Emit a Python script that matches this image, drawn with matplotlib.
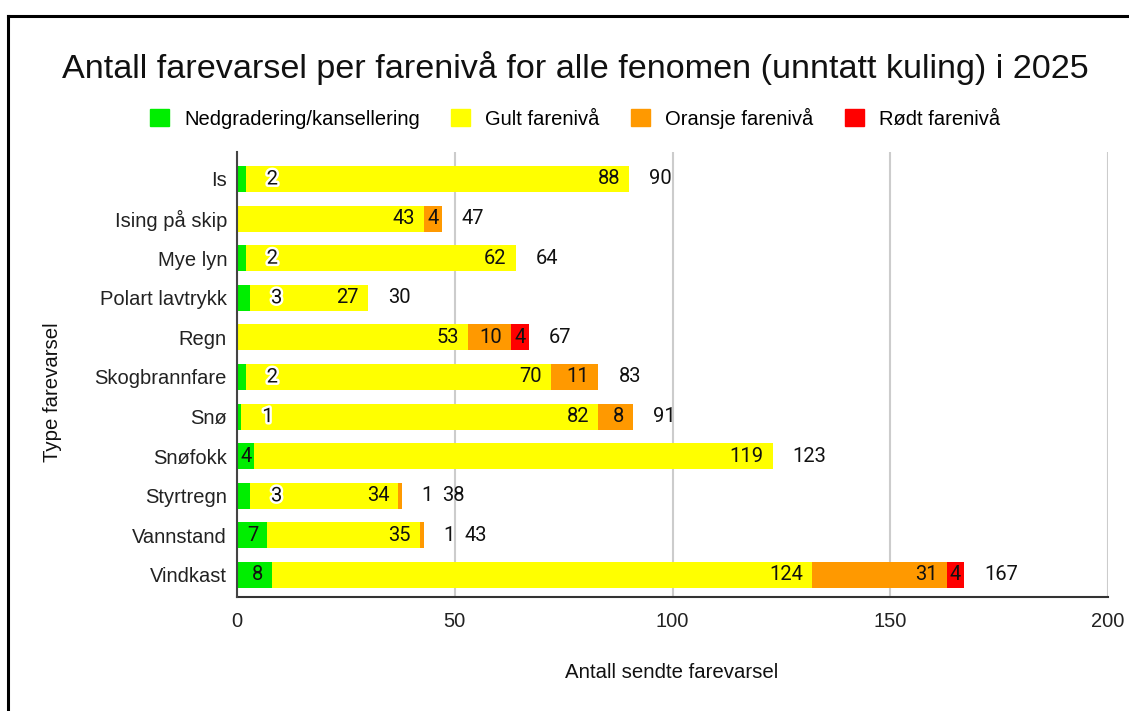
import numpy as np
import matplotlib
matplotlib.use("Agg")
import matplotlib.pyplot as plt
import matplotlib.patheffects as pe
from matplotlib.lines import Line2D

categories = ["Is", "Ising på skip", "Mye lyn", "Polart lavtrykk", "Regn", "Skogbrannfare",
              "Snø", "Snøfokk", "Styrtregn", "Vannstand", "Vindkast"]
nedgradering = [2, 0, 2, 3, 0, 2, 1, 4, 3, 7, 8]
gult = [88, 43, 62, 27, 53, 70, 82, 119, 34, 35, 124]
oransje = [0, 4, 0, 0, 10, 11, 8, 0, 1, 1, 31]
rodt = [0, 0, 0, 0, 4, 0, 0, 0, 0, 0, 4]

series = [
    ("Nedgradering/kansellering", nedgradering, "#00ee00"),
    ("Gult farenivå", gult, "#ffff00"),
    ("Oransje farenivå", oransje, "#ff9900"),
    ("Rødt farenivå", rodt, "#ff0000"),
]

plt.rcParams["font.family"] = ["Liberation Sans", "DejaVu Sans"]

fig = plt.figure(figsize=(11.29, 7.11), dpi=100)
ax = fig.add_axes([237 / 1129, 114 / 711, 871 / 1129, 445 / 711])

y = np.arange(len(categories))
unit = 871 / 200  # px per value unit
lab_size = 14.5
left = np.zeros(len(categories))
overflow_last = [False] * len(categories)

for si, (name, vals, col) in enumerate(series):
    vals = np.array(vals, dtype=float)
    ax.barh(y, vals, left=left, height=0.66, color=col, label=name, zorder=2)
    for i, v in enumerate(vals):
        if v <= 0:
            continue
        txt = str(int(v))
        w_px = v * unit
        t_px = 10 * len(txt)
        end = left[i] + v
        if w_px >= t_px + 18:
            ax.text(end - 9 / unit, i, txt, ha="right", va="center", fontsize=lab_size,
                    family="Roboto", color="#111111", zorder=4)
        elif w_px >= t_px + 5:
            ax.text(left[i] + v / 2, i, txt, ha="center", va="center", fontsize=lab_size,
                    family="Roboto", color="#111111", zorder=4)
        elif si == 0:
            ax.text(end + 6.1, i, txt, ha="center", va="center", fontsize=lab_size,
                    family="Roboto", color="#111111", zorder=4,
                    path_effects=[pe.withStroke(linewidth=3.5, foreground="white")])
        else:
            ax.text(end + 5.7, i, txt, ha="center", va="center", fontsize=lab_size,
                    family="Roboto", color="#111111", zorder=4)
            overflow_last[i] = True
    left = left + vals

for i, tot in enumerate(left):
    gap = 40 if overflow_last[i] else 20
    ax.text(tot + gap / unit, i, str(int(tot)), ha="left", va="center", fontsize=lab_size,
            family="Roboto", color="#111111", zorder=4)

ax.set_xlim(0, 200)
ax.set_ylim(10 + 22 / 39.6, -27 / 39.6)
ax.set_yticks(y)
ax.set_yticklabels(categories)
ax.set_xticks([0, 50, 100, 150, 200])
ax.tick_params(axis="both", length=0, labelsize=14.5, colors="#222222")
ax.tick_params(axis="y", pad=7.2)
ax.tick_params(axis="x", pad=11)
ax.grid(axis="x", color="#cccccc", linewidth=1.5, zorder=0)
ax.set_axisbelow(True)
for s in ["top", "right"]:
    ax.spines[s].set_visible(False)
ax.spines["left"].set_color("#444444")
ax.spines["left"].set_linewidth(1.5)
ax.spines["left"].set_zorder(5)
ax.spines["bottom"].set_color("#333333")
ax.spines["bottom"].set_linewidth(1.5)

fig.text(575 / 1129, 1 - 68 / 711, "Antall farevarsel per farenivå for alle fenomen (unntatt kuling) i 2025",
         ha="center", va="center", fontsize=24.6, color="#111111")
fig.text(672 / 1129, 1 - 673 / 711, "Antall sendte farevarsel", ha="center", va="center",
         fontsize=14.7, color="#111111")
fig.text(52 / 1129, 1 - 392 / 711, "Type farevarsel", ha="center", va="center",
         rotation=90, fontsize=14.7, color="#111111")

handles = [plt.Rectangle((0, 0), 1, 1, color=c) for _, _, c in series]
fig.legend(handles, [n for n, _, _ in series], loc="center", ncol=4,
           bbox_to_anchor=(575 / 1129, 1 - 118 / 711), frameon=False, fontsize=14.5,
           handlelength=0.95, handleheight=0.95, handletextpad=0.75, columnspacing=1.55)

# outer frame (left and top edges visible)
fig.add_artist(Line2D([8 / 1129, 8 / 1129], [0, 1 - 16 / 711], color="black", linewidth=2.2,
                      transform=fig.transFigure))
fig.add_artist(Line2D([8 / 1129, 1], [1 - 16 / 711, 1 - 16 / 711], color="black", linewidth=2.2,
                      transform=fig.transFigure))

fig.savefig("out.png", dpi=100)
